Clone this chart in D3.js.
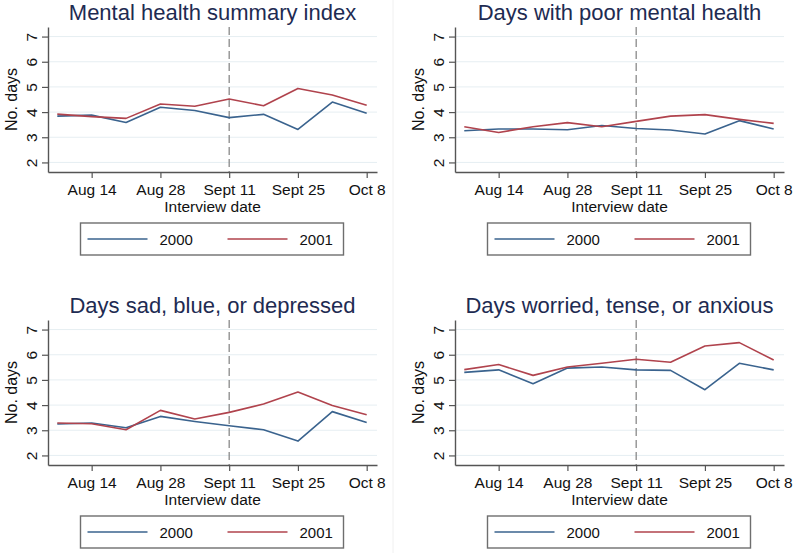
<!DOCTYPE html>
<html lang="en">
<head>
    <meta charset="UTF-8">
    <title>Mental health before and after Sept 11</title>
    <script src="https://d3js.org/d3.v7.min.js"></script>
    <style>
        body {
            margin: 0;
            background: #fff;
            font-family: "Liberation Sans", Arial, Helvetica, sans-serif;
        }
        .title {
            font-size: 22px;
            fill: #1e2b52;
        }
        .axis-label, .tick text {
            font-size: 15.5px;
            fill: #111;
        }
        .legend text {
            font-size: 15px;
            fill: #111;
        }
    </style>
</head>
<body>
    <div id="chart"></div>

    <script>
        // Weekly points, Aug 7 .. Oct 8 (ticks every two weeks)
        const weeks = [0, 1, 2, 3, 4, 5, 6, 7, 8, 9];
        const tickWeeks = [1, 3, 5, 7, 9];
        const tickLabels = ["Aug 14", "Aug 28", "Sept 11", "Sept 25", "Oct 8"];
        const sept11 = 5;
        const yTicks = [2, 3, 4, 5, 6, 7];
        const years = ["2000", "2001"];

        const titles = [
            "Mental health summary index",
            "Days with poor mental health",
            "Days sad, blue, or depressed",
            "Days worried, tense, or anxious"
        ];

        const summary2000 = [3.84, 3.88, 3.59, 4.19, 4.06, 3.78, 3.91, 3.31, 4.40, 3.95];
        const summary2001 = [3.92, 3.82, 3.75, 4.32, 4.23, 4.52, 4.25, 4.94, 4.68, 4.27];
        const poor2000 = [3.26, 3.33, 3.33, 3.30, 3.47, 3.35, 3.29, 3.13, 3.66, 3.33];
        const poor2001 = [3.42, 3.19, 3.42, 3.58, 3.42, 3.63, 3.84, 3.90, 3.71, 3.55];
        const sad2000 = [3.25, 3.29, 3.10, 3.55, 3.35, 3.18, 3.02, 2.57, 3.74, 3.31];
        const sad2001 = [3.29, 3.26, 3.02, 3.79, 3.45, 3.71, 4.04, 4.52, 3.98, 3.62];
        const worried2000 = [5.30, 5.40, 4.85, 5.47, 5.51, 5.40, 5.38, 4.61, 5.66, 5.40];
        const worried2001 = [5.41, 5.61, 5.18, 5.51, 5.66, 5.82, 5.70, 6.35, 6.48, 5.79];

        const series = [
            [summary2000, summary2001],
            [poor2000, poor2001],
            [sad2000, sad2001],
            [worried2000, worried2001]
        ];

        const colors = ["#3a638e", "#b0434d"];

        // panel plot origins
        const origins = [
            { left: 48, top: 27 },
            { left: 455, top: 27 },
            { left: 48, top: 320 },
            { left: 455, top: 320 }
        ];

        const width = 329, height = 145;

        const svg = d3.select("#chart")
                      .append("svg")
                      .attr("width", 800)
                      .attr("height", 553);

        // faint panel separator
        svg.append("line")
           .attr("x1", 393).attr("x2", 393)
           .attr("y1", 0).attr("y2", 553)
           .attr("stroke", "#f0f0f0");

        const x = d3.scaleLinear().domain([-0.27, 9.3]).range([0, width]);
        const y = d3.scaleLinear().domain([1.62, 7.38]).range([height, 0]);

        const line = d3.line()
                       .x((d, i) => x(weeks[i]))
                       .y(d => y(d));

        titles.forEach((title, p) => {
            const g = svg.append("g")
                         .attr("transform", `translate(${origins[p].left}, ${origins[p].top})`);

            // title
            g.append("text")
             .attr("class", "title")
             .attr("x", width / 2)
             .attr("y", -7)
             .attr("text-anchor", "middle")
             .text(title);

            // grid
            g.selectAll(".grid")
             .data(yTicks)
             .join("line")
             .attr("x1", 0)
             .attr("x2", width)
             .attr("y1", d => y(d))
             .attr("y2", d => y(d))
             .attr("stroke", "#e6eef2")
             .attr("stroke-width", 1);

            // Sept 11 reference line
            g.append("line")
             .attr("x1", x(sept11)).attr("x2", x(sept11))
             .attr("y1", 0).attr("y2", height)
             .attr("stroke", "#808080")
             .attr("stroke-width", 1.2)
             .attr("stroke-dasharray", "8,4");

            // lines
            series[p].forEach((vals, s) => {
                g.append("path")
                 .datum(vals)
                 .attr("fill", "none")
                 .attr("stroke", colors[s])
                 .attr("stroke-width", 1.6)
                 .attr("stroke-linejoin", "round")
                 .attr("d", line);
            });

            // axes
            const yAxis = g.append("g")
                           .call(d3.axisLeft(y).tickValues(yTicks).tickSize(6).tickSizeOuter(0).tickFormat(d3.format("d")));
            yAxis.selectAll("text")
                 .attr("transform", "rotate(-90)")
                 .attr("text-anchor", "middle")
                 .attr("x", 0)
                 .attr("y", -11)
                 .attr("dy", 0);

            const xAxis = g.append("g")
                           .attr("transform", `translate(0, ${height})`)
                           .call(d3.axisBottom(x).tickValues(tickWeeks).tickSize(6).tickSizeOuter(0)
                                   .tickFormat((d, i) => tickLabels[i]));
            xAxis.selectAll("text").attr("y", 12).attr("dy", "0.71em");

            [yAxis, xAxis].forEach(a => {
                a.select(".domain").attr("stroke", "#555").attr("stroke-width", 1.4);
                a.selectAll(".tick line").attr("stroke", "#555").attr("stroke-width", 1.2);
                a.attr("font-family", null).attr("font-size", null);
            });

            // axis titles
            g.append("text")
             .attr("class", "axis-label")
             .attr("x", width / 2)
             .attr("y", height + 40)
             .attr("text-anchor", "middle")
             .text("Interview date");

            g.append("text")
             .attr("class", "axis-label")
             .attr("transform", "rotate(-90)")
             .attr("x", -height / 2)
             .attr("y", -31)
             .attr("text-anchor", "middle")
             .style("font-size", "16px")
             .text("No. days");

            // legend
            const lg = g.append("g")
                        .attr("class", "legend")
                        .attr("transform", `translate(${width / 2}, ${height + 51})`);
            lg.append("rect")
              .attr("x", -132).attr("y", 0)
              .attr("width", 263).attr("height", 32)
              .attr("fill", "#fff")
              .attr("stroke", "#6e6e6e")
              .attr("stroke-width", 1.4);
            years.forEach((yr, s) => {
                const ox = s === 0 ? -125 : 15;
                lg.append("line")
                  .attr("x1", ox).attr("x2", ox + 60)
                  .attr("y1", 16).attr("y2", 16)
                  .attr("stroke", colors[s])
                  .attr("stroke-width", 1.6);
                lg.append("text")
                  .attr("x", ox + 72)
                  .attr("y", 22)
                  .text(yr);
            });
        });
    </script>
</body>
</html>
